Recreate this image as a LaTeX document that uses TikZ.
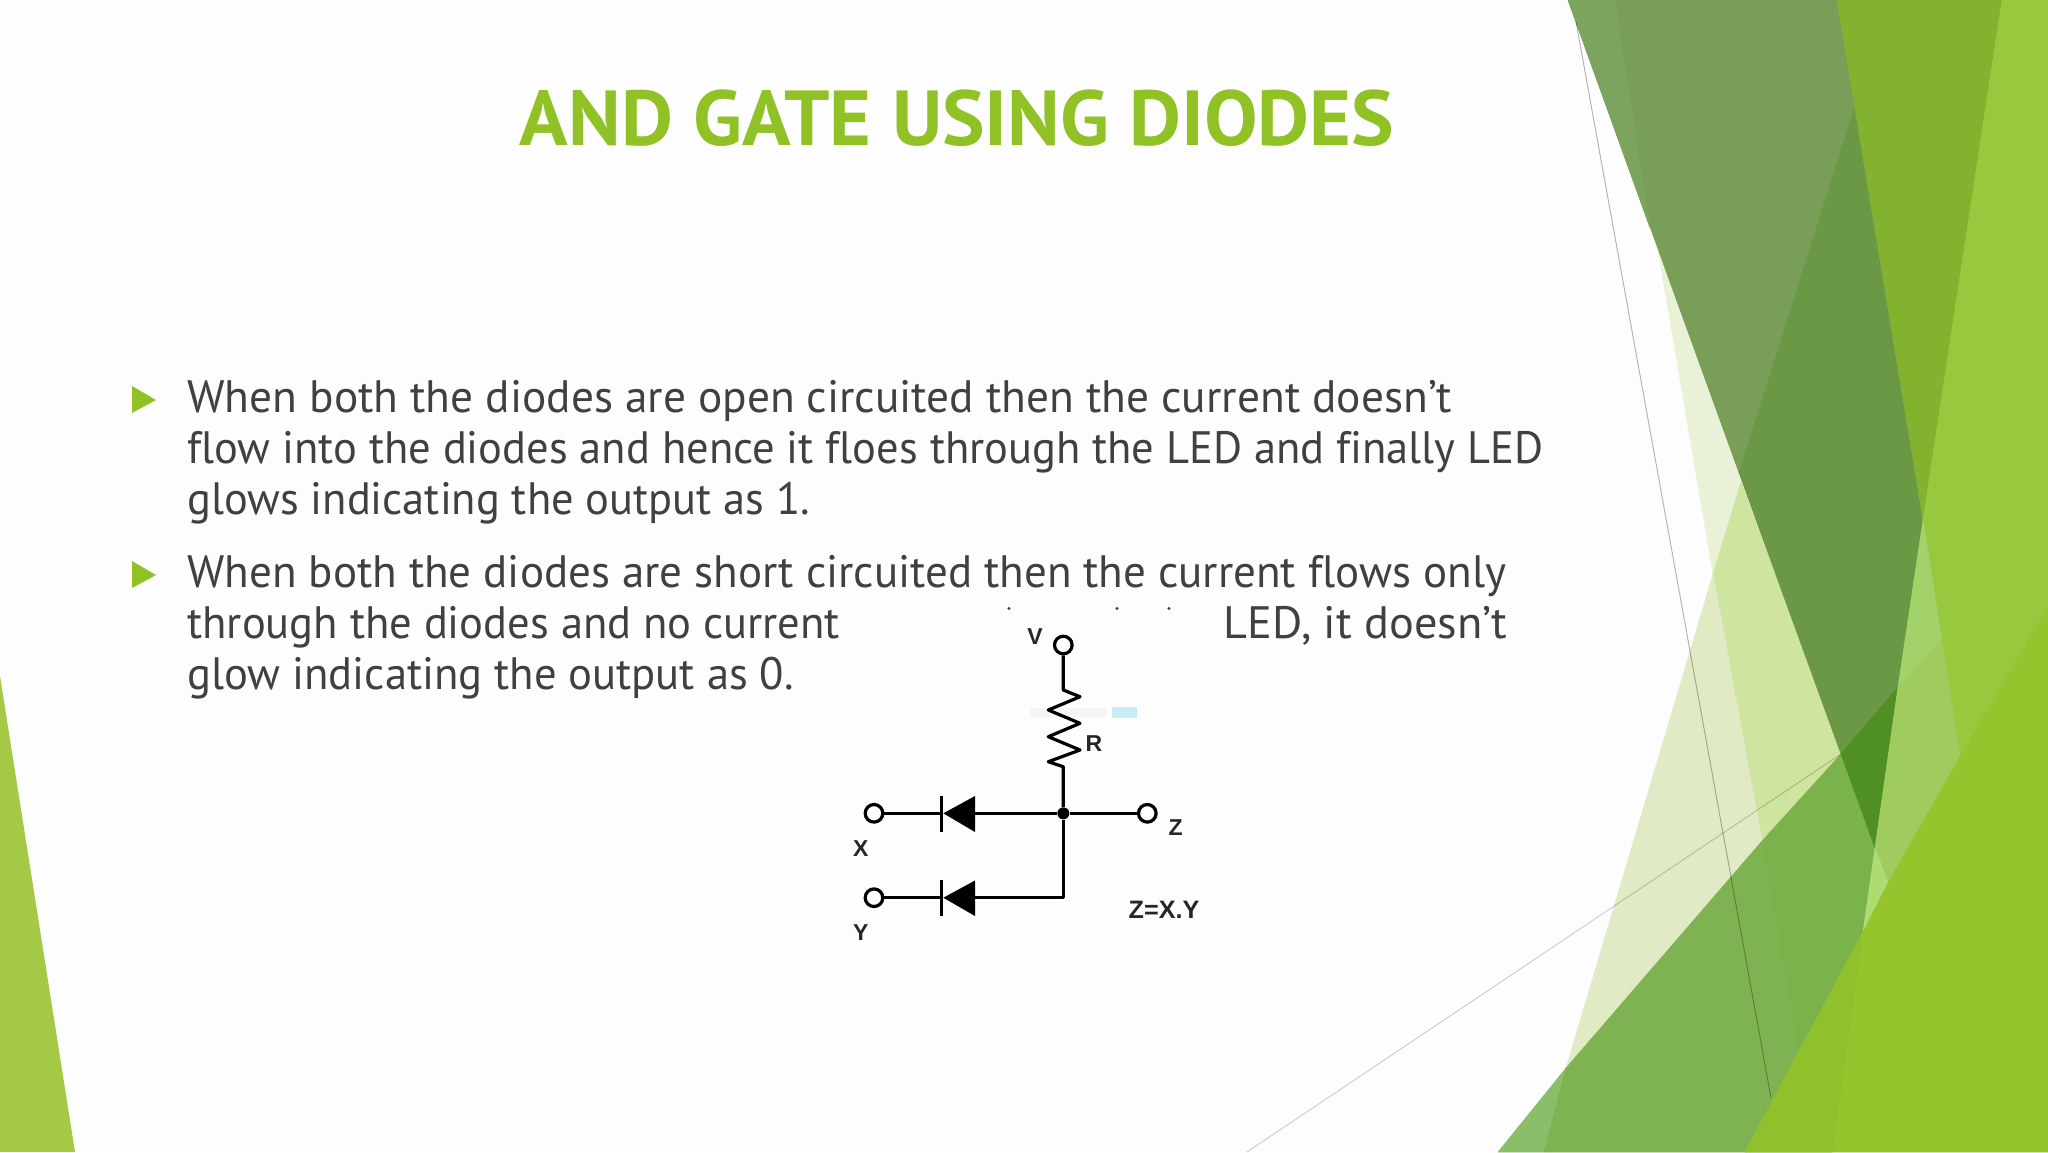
\documentclass[tikz,border=0pt]{standalone}
\usepackage{fontspec}
\setmainfont{PT Sans}[Ligatures=NoCommon]
\newfontfamily\labelfont{Liberation Sans}
\definecolor{bgc}{HTML}{FEFDFE}
\definecolor{accent}{HTML}{90C226}
\definecolor{bodyc}{HTML}{404040}
\definecolor{fca}{HTML}{789E57}
\definecolor{fcao}{HTML}{7CA45F}
\definecolor{fcb}{HTML}{6A9845}
\definecolor{fcc}{HTML}{83B22E}
\definecolor{fci}{HTML}{97C83D}
\definecolor{fch}{HTML}{95C42D}
\definecolor{fchd}{HTML}{90C12C}
\definecolor{fcl}{HTML}{CFE49E}
\definecolor{fcm}{HTML}{E9F2D7}
\definecolor{fck}{HTML}{E0EBC5}
\definecolor{fcjo}{HTML}{8BBE69}
\definecolor{fcjl}{HTML}{7FB351}
\definecolor{fcjr}{HTML}{7AB34B}
\definecolor{fcf}{HTML}{4F8F24}
\definecolor{fce}{HTML}{9FCB5F}
\definecolor{fcd}{HTML}{A4D26A}
\definecolor{fcg}{HTML}{AEDC74}
\definecolor{fcleft}{HTML}{A4C944}
\tikzset{
  facet/.style={fill=#1,draw=#1,line width=0.25pt,line join=round},
  bodyline/.style={anchor=base west,inner sep=0pt,text=bodyc,font=\fontsize{22.7}{26}\selectfont},
  titletext/.style={anchor=base,inner sep=0pt,text=accent,font=\bfseries\fontsize{39}{44}\selectfont},
  bullet/.style={fill=accent},
  terminal/.style={circle,draw=black,fill=white,line width=1.6pt,inner sep=0pt,minimum size=8.8pt},
  wire/.style={draw=black,line width=1.6pt,line join=round},
  junction/.style={circle,fill=black,inner sep=0pt,minimum size=6pt},
  diodetri/.style={fill=black},
  clabel/.style={inner sep=0pt,text=black!85,font=\labelfont\bfseries\fontsize{11.5}{13}\selectfont},
  clabelwide/.style={inner sep=0pt,text=black!85,font=\labelfont\bfseries\fontsize{12.6}{14}\selectfont},
  hairline/.style={line width=0.45pt}
}
\begin{document}
\begin{tikzpicture}[x=0.5pt,y=-0.5pt]
\useasboundingbox (0,0) rectangle (2048,1152);
\fill[bgc] (0,0) rectangle (2048,1152);
% left wedge
\fill[fcleft] (0,676) -- (75,1152) -- (0,1152) -- cycle;
% right facets
\path[facet=fcm] (1658,250) -- (1741,482) -- (1713,574) -- cycle;
\path[facet=fcl] (1741,482) -- (1841,754) -- (1762,841) -- (1713,574) -- cycle;
\path[facet=fck] (1713,574) -- (1762,841) -- (1566,1068) -- cycle;
\path[facet=fcjo] (1498,1152) -- (1566,1068) -- (1544,1152) -- cycle;
\path[facet=fcjl] (1566,1068) -- (1762,841) -- (1799,1051) -- (1745,1152) -- (1544,1152) -- cycle;
\path[facet=fcjr] (1762,841) -- (1841,754) -- (1875,848) -- (1863,932) -- (1799,1051) -- cycle;
\path[facet=fca] (1568,0) -- (1837,0) -- (1854.7,107) -- (1739,473) -- cycle;
\path[facet=fcao] (1568,0) -- (1615,0) -- (1650,228) -- cycle;
\path[facet=fcb] (1854.7,107) -- (1923,520) -- (1898,687) -- (1841,754) -- (1785,600) -- (1739,473) -- cycle;
\path[facet=fcf] (1841,754) -- (1898,687) -- (1875,848) -- cycle;
\path[facet=fcc] (1837,0) -- (2002,0) -- (1923,520) -- cycle;
\path[facet=fci] (2002,0) -- (2048,0) -- (2048,607) -- (1960,757) -- (1923,520) -- cycle;
\path[facet=fcd] (1923,520) -- (1941.7,640) -- (1898,687) -- cycle;
\path[facet=fce] (1941.7,640) -- (1960,757) -- (1888,883) -- (1875,848) -- (1898,687) -- cycle;
\path[facet=fcg] (1875,848) -- (1888,883) -- (1863,932) -- cycle;
% thin grey lines
\draw[hairline,black,opacity=0.3] (1576,22) -- (1771,1098);
\draw[hairline,black,opacity=0.2] (1247,1152) -- (1841,754);
% lower right facet
\path[facet=fch] (1960,757) -- (2048,607) -- (2048,1152) -- (1745,1152) -- (1863,932) -- (1888,883) -- cycle;
\path[facet=fchd] (1863,932) -- (1832,1152) -- (1745,1152) -- cycle;
% title
\node[titletext] (title) at (957,145) {\scalebox{1.028}[1]{AND GATE USING DIODES}};
% bullets
\fill[bullet] (132,386) -- (156,400) -- (132,413) -- cycle;
\fill[bullet] (132,561) -- (156,575) -- (132,588) -- cycle;
% body text
\node[bodyline] (a1) at (187,412) {\scalebox{0.998}[1]{When both the diodes are open circuited then the current doesn’t}};
\node[bodyline] (a2) at (187,463) {\scalebox{0.980}[1]{flow into the diodes and hence it floes through the LED and finally LED}};
\node[bodyline] (a3) at (187,514) {\scalebox{0.979}[1]{glows indicating the output as 1.}};
\node[bodyline] (b1) at (187,587) {\scalebox{0.991}[1]{When both the diodes are short circuited then the current flows only}};
\node[bodyline] (b2) at (187,638) {\scalebox{0.981}[1]{through the diodes and no current}};
\node[bodyline] (b2r) at (1223,638) {\scalebox{1.02}[1]{LED, it doesn’t}};
\node[bodyline] (b3) at (187,689) {\scalebox{0.983}[1]{glow indicating the output as 0.}};
% remnants of the covered line
\fill[bodyc] (1009,608.5) circle (1.6);
\fill[bodyc] (1117,608.5) circle (1.6);
\fill[bodyc] (1169,608.5) circle (1.6);
% watermark of the pasted circuit
\fill[black!4] (1030,708) rectangle (1107,717);
\fill[cyan!22] (1112,707) rectangle (1137,718);
% circuit
\node[terminal] (V) at (1063.3,645) {};
\node[terminal] (Z) at (1147.3,813.3) {};
\node[terminal] (X) at (874,813.3) {};
\node[terminal] (Y) at (874,897.7) {};
\node[junction] (J) at (1063.3,813.3) {};
\coordinate (C) at (1063.3,897.7);
\coordinate (Rt) at (1063.3,690);
\coordinate (Rb) at (1063.3,766.7);
\coordinate (DXc) at (942,813.3);
\coordinate (DXa) at (975,813.3);
\coordinate (DYc) at (942,897.7);
\coordinate (DYa) at (975,897.7);
\draw[wire] (V) -- (Rt) -- (1080,696.7) -- (1048.3,710) -- (1080,723.3) -- (1048.3,736.7) -- (1080,750) -- (1048.3,761.7) -- (Rb) -- (J);
\draw[wire] (X) -- (DXc);
\draw[wire] (DXa) -- (J);
\draw[wire] (J) -- (Z);
\draw[wire] (J) -- (C) -- (DYa);
\draw[wire] (Y) -- (DYc);
\fill[diodetri] (943.3,813.3) -- (975,796) -- (975,832) -- cycle;
\fill[diodetri] (943.3,897.7) -- (975,880.5) -- (975,916) -- cycle;
\draw[wire] (941.7,796) -- (941.7,832);
\draw[wire] (941.7,880) -- (941.7,916);
\node[clabel] (lV) at (1035,637) {V};
\node[clabel] (lR) at (1094,744) {R};
\node[clabel] (lZ) at (1175.7,827.7) {Z};
\node[clabel] (lX) at (860.7,849) {X};
\node[clabel] (lY) at (860.7,933) {Y};
\node[clabelwide] (lE) at (1164,910) {Z=X.Y};
\end{tikzpicture}
\end{document}
